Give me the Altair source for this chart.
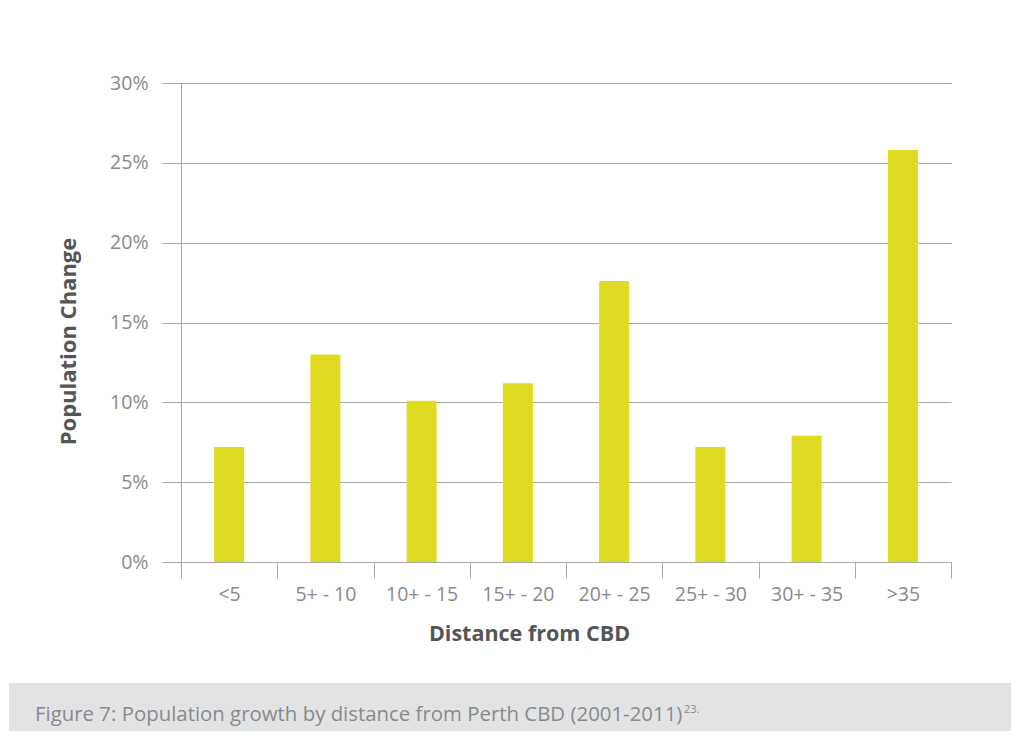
import altair as alt
import pandas as pd

categories = ["<5", "5+ - 10", "10+ - 15", "15+ - 20", "20+ - 25", "25+ - 30", "30+ - 35", ">35"]
values = [7.2, 13.0, 10.1, 11.2, 17.6, 7.2, 7.9, 25.8]
y_ticks = [0, 5, 10, 15, 20, 25, 30]
caption = ["Figure 7: Population growth by distance from Perth CBD (2001-2011)"]
caption_note = ["23."]

df = pd.DataFrame({"distance": categories, "change": values})

FONT = "Open Sans"
GRID = "#a8a8a8"
LABEL = "#8a8a8a"
TITLE = "#555555"
BAR = "#dfdb22"

band = alt.Chart(pd.DataFrame({"k": [0]})).mark_rect(color="#e2e3e5").encode(
    x=alt.value(-172), x2=alt.value(830), y=alt.value(600), y2=alt.value(648)
)

bars = alt.Chart(df).mark_bar(color=BAR, size=30).encode(
    x=alt.X(
        "distance:N",
        sort=categories,
        scale=alt.Scale(paddingInner=0, paddingOuter=0),
        axis=alt.Axis(
            title="Distance from CBD",
            tickBand="extent",
            labelAngle=0,
            labelFont=FONT,
            labelFontSize=19.5,
            labelColor=LABEL,
            labelPadding=7,
            tickSize=16,
            tickColor=GRID,
            domainColor=GRID,
            titleFont=FONT,
            titleFontSize=21.5,
            titleFontWeight="bold",
            titleColor=TITLE,
            titleX=348,
            titleY=72.5,
            titleBaseline="middle",
        ),
    ),
    y=alt.Y(
        "change:Q",
        scale=alt.Scale(domain=[0, 30], nice=False),
        axis=alt.Axis(
            values=y_ticks,
            labelExpr="datum.value + '%'",
            title="Population Change",
            grid=True,
            gridColor=GRID,
            gridWidth=1.2,
            tickSize=19,
            tickColor=GRID,
            domainColor=GRID,
            labelFont=FONT,
            labelFontSize=19.5,
            labelColor=LABEL,
            labelPadding=14,
            titleFont=FONT,
            titleFontSize=22,
            titleFontWeight="bold",
            titleColor=TITLE,
            titleX=-113,
            titleY=258,
            titleBaseline="middle",
        ),
    ),
)

cap = alt.Chart(pd.DataFrame({"t": caption})).mark_text(
    align="left", baseline="alphabetic", font=FONT, fontSize=20.4, color=LABEL
).encode(x=alt.value(-146), y=alt.value(638), text="t:N")

sup = alt.Chart(pd.DataFrame({"t": caption_note})).mark_text(
    align="left", baseline="middle", font=FONT, fontSize=11, color=LABEL
).encode(x=alt.value(503), y=alt.value(627), text="t:N")

chart = alt.layer(band, bars, cap, sup).properties(
    width=770,
    height=479,
    padding={"left": 173, "top": 75, "right": 60, "bottom": 169},
    autosize="none",
    background="white",
).configure_view(stroke=None)

chart.save("out.html", embed_options={"renderer": "svg", "actions": False})
